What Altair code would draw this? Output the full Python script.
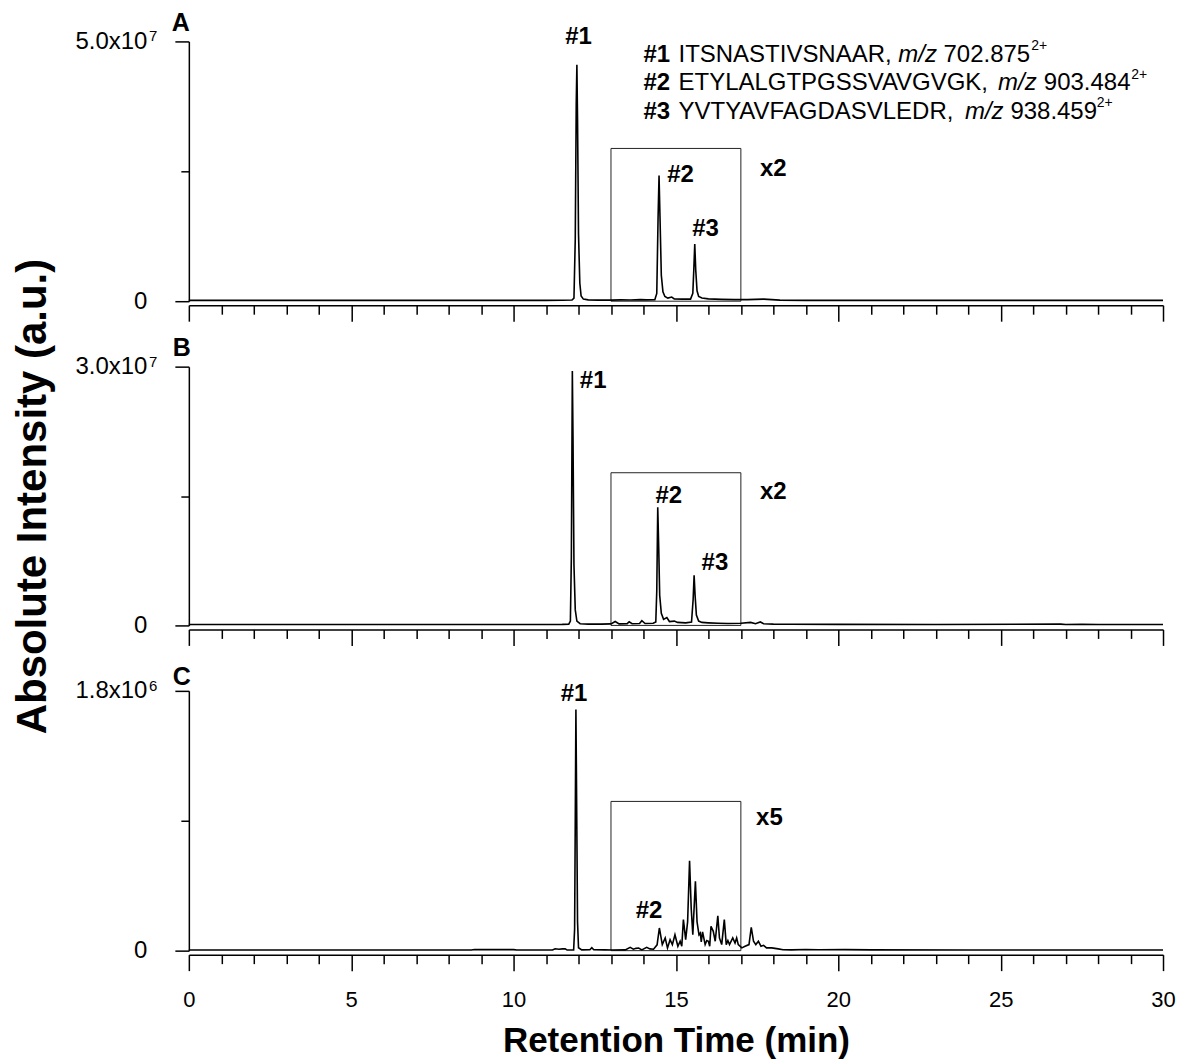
import altair as alt
import pandas as pd

FONT = "Liberation Sans"

# ---------------- data ----------------
X_TICKS = list(range(0, 31))

# Panel A trace (displayed intensity; inset region already x2)
a_time = [0, 2, 5, 8, 10, 11.0, 11.5, 11.8, 11.86, 11.9, 11.93, 11.95, 11.97, 12.0, 12.04, 12.08,
          12.15, 12.3, 12.6, 13.0, 13.3, 13.6, 13.9, 14.1, 14.35, 14.41, 14.45, 14.48, 14.51, 14.55,
          14.6, 14.66, 14.75, 14.87, 14.95, 15.2, 15.45, 15.52, 15.55, 15.58, 15.61, 15.65, 15.7,
          15.8, 16.0, 16.4, 16.8, 17.2, 17.7, 18.2, 19, 21, 24, 27, 30]
a_int = [1.5e5, 1.5e5, 1.5e5, 1.5e5, 1.5e5, 1.6e5, 1.8e5, 2.2e5, 6e5, 1.2e7, 3.8e7, 4.55e7, 3.5e7, 1.3e7, 3.5e6, 1.0e6,
         4e5, 2.5e5, 2e5, 2e5, 2.6e5, 2.2e5, 3e5, 2.5e5, 3e5, 1.5e6, 1.6e7, 2.42e7, 1.6e7, 5e6,
         1.8e6, 9e5, 6e5, 8e5, 4.5e5, 4e5, 4e5, 1.5e6, 6e6, 1.10e7, 6e6, 2e6, 9e5,
         6e5, 4.5e5, 3.5e5, 3e5, 3e5, 4e5, 2e5, 1.6e5, 1.5e5, 1.5e5, 1.5e5, 1.5e5]

# Panel B trace
b_time = [0, 3, 6, 9, 11.0, 11.5, 11.7, 11.75, 11.78, 11.81, 11.83, 11.86, 11.9, 11.95, 12.05,
          12.3, 12.7, 13.0, 13.13, 13.25, 13.5, 13.56, 13.65, 13.88, 13.95, 14.05, 14.3, 14.38,
          14.41, 14.44, 14.47, 14.5, 14.55, 14.62, 14.72, 14.8, 14.95, 15.05, 15.3, 15.48, 15.53,
          15.56, 15.59, 15.63, 15.7, 15.8, 16.0, 16.3, 16.6, 17.0, 17.3, 17.45, 17.6, 17.7, 18.0,
          18.5, 20, 23, 26.85, 27.0, 27.5, 28, 30]
b_int = [1e5, 1e5, 1e5, 1e5, 1e5, 1.2e5, 1.5e5, 5e5, 8e6, 2.95e7, 2.2e7, 7e6, 1.8e6, 5e5, 2e5,
         1.5e5, 1.5e5, 1.8e5, 4.5e5, 1.8e5, 2e5, 4.2e5, 2e5, 2.2e5, 5.5e5, 2.2e5, 2.5e5, 4e5,
         4e6, 1.37e7, 9e6, 3.5e6, 1.4e6, 7e5, 9e5, 4.5e5, 5e5, 3.5e5, 3e5, 4e5, 3e6,
         5.8e6, 3.5e6, 1.2e6, 5e5, 3.5e5, 3e5, 2.5e5, 2.2e5, 2.5e5, 3.5e5, 2e5, 4e5, 2e5, 1.5e5,
         1.3e5, 1.2e5, 1.1e5, 1.5e5, 1.0e5, 1.3e5, 1e5, 1e5]

# Panel C trace (inset region already x5)
c_time = [0, 4, 8.7, 8.8, 10.0, 10.1, 11.2, 11.28, 11.4, 11.5, 11.59, 11.65, 11.85, 11.88, 11.9,
          11.92, 11.94, 11.97, 12.0, 12.1, 12.35, 12.41, 12.47, 12.8, 13.03, 13.44, 13.59, 13.69,
          13.77, 13.85, 13.95, 14.1, 14.2, 14.31, 14.42, 14.49, 14.58, 14.67, 14.74, 14.82, 14.89,
          14.97, 15.06, 15.13, 15.18, 15.23, 15.30, 15.36, 15.42, 15.47, 15.52, 15.60, 15.65,
          15.71, 15.75, 15.78, 15.82, 15.90, 15.95, 16.0, 16.04, 16.08, 16.15, 16.21, 16.29,
          16.34, 16.41, 16.49, 16.55, 16.6, 16.65, 16.75, 16.82, 16.87, 16.92, 17.03, 17.13,
          17.25, 17.32, 17.39, 17.46, 17.54, 17.62, 17.70, 17.79, 17.95, 18.15, 18.3, 18.56,
          19.0, 19.4, 20.2, 21, 24, 26.5, 30]
c_int = [4e3, 4e3, 4e3, 8e3, 7e3, 4e3, 4e3, 1.3e4, 1.0e4, 1.2e4, 1.3e4, 4e3, 5e3, 1.5e5, 9e5,
         1.67e6, 1.1e6, 2e5, 2e4, 5e3, 6e3, 2e4, 6e3, 5e3, 4e3, 5e3, 2.3e4, 1e4,
         1.6e4, 1.8e4, 5e3, 2.3e4, 1.2e4, 1e4, 4e4, 1.57e5, 4.2e4, 8.8e4, 1.9e4, 7.6e4, 4.2e4,
         1.1e5, 3e4, 6.5e4, 3e4, 2.15e5, 7.6e4, 2.0e5, 6.23e5, 2.95e5, 1.1e5, 4.8e5, 2.0e5,
         1.1e5, 1.22e5, 6e4, 1.3e5, 4.2e4, 7e4, 6.5e4, 3e4, 1.69e5, 1.34e5, 6.5e4, 2.42e5,
         8.8e4, 4.2e4, 2.15e5, 4.2e4, 7e4, 4.2e4, 8.8e4, 5.3e4, 8.8e4, 4.2e4, 1.9e4, 3e4,
         4.2e4, 1.62e5, 6.5e4, 4.2e4, 6.5e4, 3e4, 3.7e4, 1.9e4, 1.9e4, 1.2e4, 6e3, 5e3,
         8e3, 6e3, 7e3, 5e3, 4.5e3, 4.5e3, 4e3]

# y-axis ranges and labels (mantissa x 10^exponent)
a_ymax, b_ymax, c_ymax = 5.0e7, 3.0e7, 1.8e6
a_toplabel, b_toplabel, c_toplabel = "5.0x10", "3.0x10", "1.8x10"
a_exp, b_exp, c_exp = "7", "7", "6"

# inset boxes (start, end, top)
a_box = [13.0, 17.0, 2.94e7]
b_box = [13.0, 17.0, 1.77e7]
c_box = [13.0, 17.0, 1.034e6]

# peak annotations
a_ann_text = ["#1", "#2", "#3", "x2"]
a_ann_t = [12.0, 15.14, 15.91, 18.0]
a_ann_v = [5.08e7, 2.42e7, 1.385e7, 2.54e7]
b_ann_text = ["#1", "#2", "#3", "x2"]
b_ann_t = [12.45, 14.78, 16.2, 18.0]
b_ann_v = [2.83e7, 1.5e7, 7.2e6, 1.55e7]
c_ann_text = ["#1", "#2", "x5"]
c_ann_t = [11.86, 14.17, 17.88]
c_ann_v = [1.78e6, 2.73e5, 9.2e5]

# panel letters
letters = ["A", "B", "C"]
letter_t = [-0.25, -0.22, -0.22]
letter_v = [5.35e7, 3.22e7, 1.897e6]

# legend (panel A)
leg_id = ["#1", "#2", "#3"]
leg_pep = ["ITSNASTIVSNAAR,", "ETYLALGTPGSSVAVGVGK,", "YVTYAVFAGDASVLEDR,"]
leg_mz = ["702.875", "903.484", "938.459"]
leg_charge = ["2+", "2+", "2+"]
leg_v = [4.735e7, 4.19e7, 3.65e7]
leg_id_t = [14.0, 14.0, 14.0]
leg_pep_t = [15.08, 15.08, 15.08]
leg_mzlab_t = [21.85, 24.92, 23.9]
leg_mz_t = [23.24, 26.33, 25.3]
leg_charge_t = [25.94, 29.02, 27.96]


def panel(time, inten, ymax, toplabel, yexp, box, ann_text, ann_t, ann_v, letter, lt, lv,
          bottom=False, ytitle=None, legend=False, height=260):
    xscale = alt.Scale(domain=[0, 30], nice=False, zero=False)
    yscale = alt.Scale(domain=[0, ymax], nice=False)
    xaxis_kw = dict(
        values=X_TICKS, offset=4, grid=False,
        tickSize={"condition": {"test": "datum.value % 5 === 0", "value": 16}, "value": 9},
        tickColor="black", tickWidth=1.5, domainColor="black", domainWidth=1.5,
        labelOverlap=False, labelFlush=False,
    )
    if bottom:
        xaxis = alt.Axis(
            labelExpr="datum.value % 5 === 0 ? datum.label : ''",
            labelFont=FONT, labelFontSize=22, labelColor="black", labelPadding=19,
            title="Retention Time (min)", titleFont=FONT, titleFontSize=35,
            titleFontWeight="bold", titleColor="black", titlePadding=13,
            **xaxis_kw)
    else:
        xaxis = alt.Axis(labels=False, title=None, **xaxis_kw)
    ymid = ymax / 2
    yaxis_kw = dict(
        values=[0, ymid, ymax], grid=False,
        labelExpr=f"datum.value === 0 ? '0' : (datum.value === {ymax} ? '{toplabel}' : '')",
        tickSize={"condition": {"test": f"datum.value === {ymid}", "value": 8}, "value": 14},
        tickColor="black", tickWidth=1.5, domainColor="black", domainWidth=1.5,
        labelFont=FONT, labelFontSize=24, labelColor="black", labelPadding=28,
        labelOverlap=False, labelFlush=False,
    )
    if ytitle:
        yaxis = alt.Axis(title=ytitle, titleFont=FONT, titleFontSize=42, titleFontWeight="bold",
                         titleColor="black", titlePadding=20, **yaxis_kw)
    else:
        yaxis = alt.Axis(title=None, **yaxis_kw)

    X = lambda f: alt.X(f, scale=xscale, axis=xaxis)
    Y = lambda f: alt.Y(f, scale=yscale, axis=yaxis)

    df = pd.DataFrame({"t": time, "v": inten})
    line = alt.Chart(df).mark_line(color="black", strokeWidth=1.6).encode(
        x=X("t:Q"), y=Y("v:Q"))
    bdf = pd.DataFrame({"t": [box[0]], "t1": [box[1]], "v": [0.0], "v1": [box[2]]})
    rect = alt.Chart(bdf).mark_rect(fillOpacity=0, stroke="#222222", strokeWidth=1).encode(
        x=X("t:Q"), x2="t1:Q", y=Y("v:Q"), y2="v1:Q")
    adf = pd.DataFrame({"t": ann_t, "v": ann_v, "txt": ann_text})
    ann = alt.Chart(adf).mark_text(font=FONT, fontSize=24, fontWeight="bold", color="black",
                                   align="center", baseline="middle").encode(
        x=X("t:Q"), y=Y("v:Q"), text="txt:N")
    ldf = pd.DataFrame({"t": [lt], "v": [lv], "txt": [letter]})
    let = alt.Chart(ldf).mark_text(font=FONT, fontSize=25, fontWeight="bold", color="black",
                                   align="center", baseline="middle").encode(
        x=X("t:Q"), y=Y("v:Q"), text="txt:N")
    edf = pd.DataFrame({"t": [0.0], "v": [ymax], "txt": [yexp]})
    expo = alt.Chart(edf).mark_text(font=FONT, fontSize=15, color="black", align="left",
                                    baseline="middle", dx=-40, dy=-5).encode(
        x=X("t:Q"), y=Y("v:Q"), text="txt:N")
    layers = [rect, line, ann, let, expo]
    if legend:
        def seg(ts, txts, **kw):
            d = pd.DataFrame({"t": ts, "v": leg_v, "txt": txts})
            return alt.Chart(d).mark_text(font=FONT, color="black", align="left",
                                          baseline="middle", **kw).encode(
                x=X("t:Q"), y=Y("v:Q"), text="txt:N")
        layers += [
            seg(leg_id_t, leg_id, fontSize=24, fontWeight="bold"),
            seg(leg_pep_t, leg_pep, fontSize=24),
            seg(leg_mzlab_t, ["m/z"] * 3, fontSize=24, fontStyle="italic"),
            seg(leg_mz_t, leg_mz, fontSize=24),
            seg(leg_charge_t, leg_charge, fontSize=14, dy=-9),
        ]
    return alt.layer(*layers).properties(width=975, height=height)


pA = panel(a_time, a_int, a_ymax, a_toplabel, a_exp, a_box, a_ann_text, a_ann_t, a_ann_v,
           letters[0], letter_t[0], letter_v[0], legend=True)
pB = panel(b_time, b_int, b_ymax, b_toplabel, b_exp, b_box, b_ann_text, b_ann_t, b_ann_v,
           letters[1], letter_t[1], letter_v[1], ytitle="Absolute Intensity (a.u.)", height=259)
pC = panel(c_time, c_int, c_ymax, c_toplabel, c_exp, c_box, c_ann_text, c_ann_t, c_ann_v,
           letters[2], letter_t[2], letter_v[2], bottom=True)

chart = alt.vconcat(pA, pB, pC, spacing=65.5, bounds="flush").properties(
    padding={"left": 3, "top": 2, "right": 0, "bottom": 0}, background="white"
).configure_view(stroke="transparent")

chart.save("out.html", embed_options={"renderer": "svg", "actions": False})
